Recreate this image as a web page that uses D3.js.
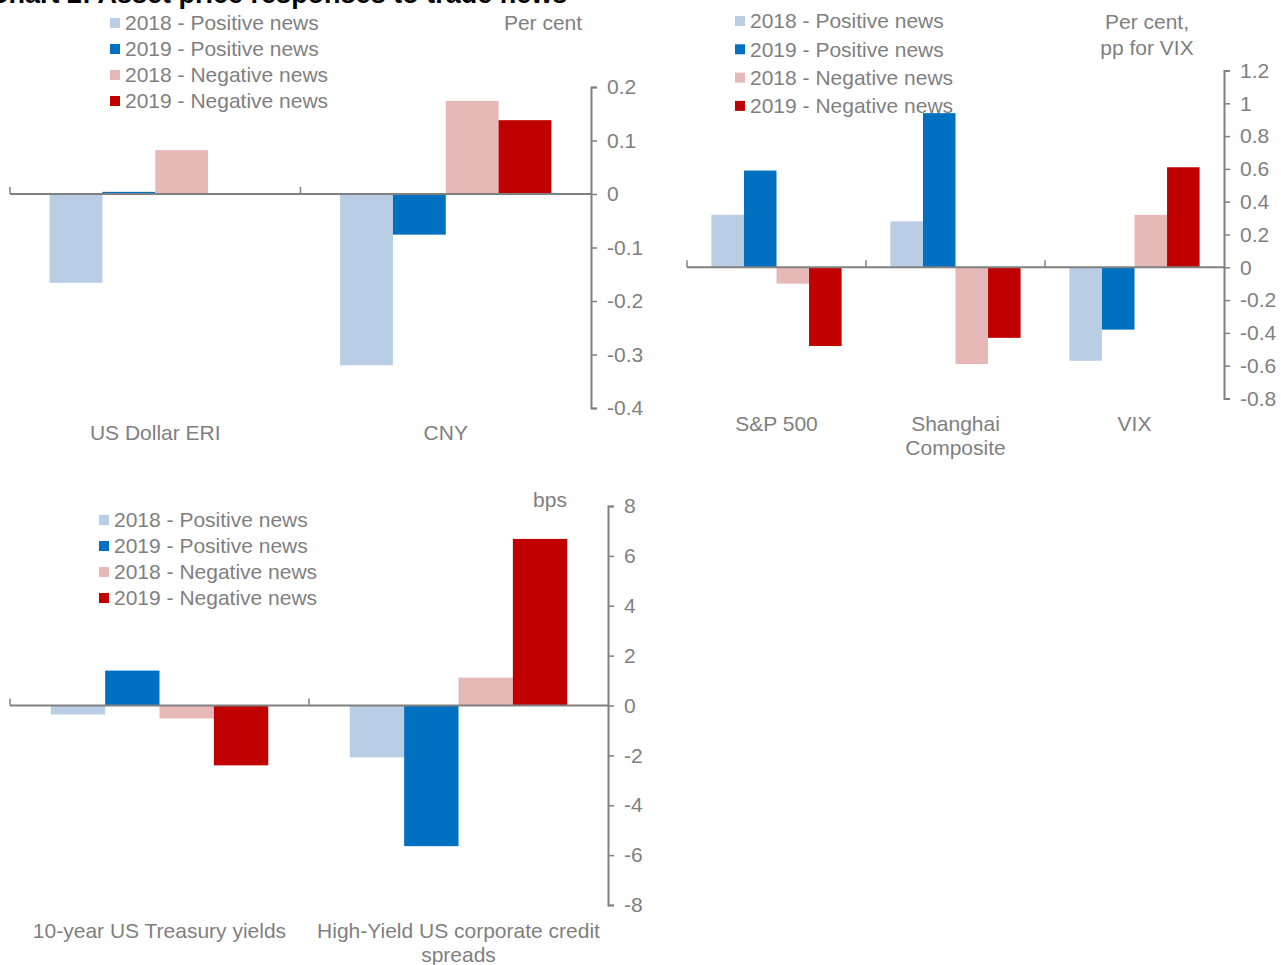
<!DOCTYPE html>
<html><head><meta charset="utf-8">
<script src="https://cdn.jsdelivr.net/npm/d3@7"></script>
<style>
body{margin:0;background:#fff;}
svg text{font-family:"Liberation Sans",Arial,sans-serif;}
</style></head>
<body>
<svg id="c" width="1281" height="965"></svg>
<script>
const seriesNames = ["2018 - Positive news","2019 - Positive news","2018 - Negative news","2019 - Negative news"];
const seriesColors = ["#b9cde5","#0070c0","#e6b9b8","#c00000"];

// Panel 1: currencies (per cent)
const fxCategories = ["US Dollar ERI","CNY"];
const fx2018Pos = [-0.166,-0.32];
const fx2019Pos = [0.004,-0.076];
const fx2018Neg = [0.082,0.174];
const fx2019Neg = [0,0.138];
const fxTicks = [0.2,0.1,0,-0.1,-0.2,-0.3,-0.4];

// Panel 2: equities (per cent, pp for VIX)
const eqCategories = ["S&P 500","Shanghai Composite","VIX"];
const eq2018Pos = [0.32,0.28,-0.57];
const eq2019Pos = [0.59,0.94,-0.38];
const eq2018Neg = [-0.10,-0.59,0.32];
const eq2019Neg = [-0.48,-0.43,0.61];
const eqTicks = [1.2,1,0.8,0.6,0.4,0.2,0,-0.2,-0.4,-0.6,-0.8];

// Panel 3: yields and spreads (bps)
const bondCategories = ["10-year US Treasury yields","High-Yield US corporate credit spreads"];
const bond2018Pos = [-0.36,-2.08];
const bond2019Pos = [1.4,-5.64];
const bond2018Neg = [-0.52,1.12];
const bond2019Neg = [-2.4,6.68];
const bondTicks = [8,6,4,2,0,-2,-4,-6,-8];

const GREY = "#808080", TXT = "#7f7f7f", FS = 21;
const svg = d3.select("#c");

// Title (cut off at top as in reference)
svg.append("text").attr("x",-11).attr("y",3)
  .attr("font-size",27).attr("font-weight","bold").attr("fill","#000")
  .text("Chart 2: Asset price responses to trade news");

function panel(o){
  const g = svg.append("g");
  const y = d3.scaleLinear().domain(o.domain).range([o.yBottom,o.yTop]);
  const x = d3.scaleBand().domain(o.categories).range([o.x0,o.x1]);
  const xs = d3.scaleBand().domain(seriesNames).range([0,x.bandwidth()]).paddingOuter(0.75);
  const vals = [o.s1,o.s2,o.s3,o.s4];
  o.categories.forEach((c,ci)=>{
    seriesNames.forEach((s,si)=>{
      const v = vals[si][ci];
      if(v===0) return;
      g.append("rect")
        .attr("x",x(c)+xs(s)).attr("width",xs.bandwidth())
        .attr("y",y(Math.max(0,v))).attr("height",Math.abs(y(v)-y(0)))
        .attr("fill",seriesColors[si]);
    });
  });
  // zero line with category ticks
  g.append("line").attr("x1",o.x0).attr("x2",o.x1).attr("y1",y(0)).attr("y2",y(0))
    .attr("stroke",GREY).attr("stroke-width",2);
  o.categories.forEach(c=>{
    g.append("line").attr("x1",x(c)).attr("x2",x(c)).attr("y1",y(0)).attr("y2",y(0)-7)
      .attr("stroke",GREY).attr("stroke-width",1.5);
  });
  // y axis
  const ax = g.append("g").attr("transform",`translate(${o.x1},0)`)
    .call(d3.axisRight(y).tickValues(o.ticks).tickSize(6).tickSizeOuter(6).tickPadding(10)
      .tickFormat(d=>String(d)));
  ax.select(".domain").attr("stroke",GREY).attr("stroke-width",2);
  ax.selectAll(".tick line").attr("stroke",GREY).attr("stroke-width",1.5);
  ax.selectAll(".tick text").attr("fill",TXT).attr("font-size",FS)
    .attr("font-family","Liberation Sans, Arial, sans-serif");
  // category labels
  o.categories.forEach((c,ci)=>{
    const lines = o.labelLines[ci];
    lines.forEach((l,li)=>{
      g.append("text").attr("x",x(c)+x.bandwidth()/2).attr("y",o.labelY+li*24)
        .attr("dy","0.35em").attr("text-anchor","middle").attr("fill",TXT).attr("font-size",FS).text(l);
    });
  });
  // unit
  o.unit.forEach((u,ui)=>{
    g.append("text").attr("x",o.unitX).attr("y",o.unitY+ui*26).attr("dy","0.35em")
      .attr("text-anchor","middle").attr("fill",TXT).attr("font-size",FS).text(u);
  });
  // legend
  seriesNames.forEach((s,si)=>{
    const cy = o.legY + si*o.legStep;
    g.append("rect").attr("x",o.legX).attr("y",cy-5).attr("width",10).attr("height",10).attr("fill",seriesColors[si]);
    g.append("text").attr("x",o.legX+15).attr("y",cy).attr("dy","0.35em")
      .attr("fill",TXT).attr("font-size",FS).text(s);
  });
}

panel({categories:fxCategories,s1:fx2018Pos,s2:fx2019Pos,s3:fx2018Neg,s4:fx2019Neg,
  domain:[-0.4,0.2],ticks:fxTicks,yTop:87,yBottom:408,x0:10,x1:591,
  labelLines:[["US Dollar ERI"],["CNY"]],labelY:433,
  unit:["Per cent"],unitX:543,unitY:23,legX:110,legY:23,legStep:26});

panel({categories:eqCategories,s1:eq2018Pos,s2:eq2019Pos,s3:eq2018Neg,s4:eq2019Neg,
  domain:[-0.8,1.2],ticks:eqTicks,yTop:70.5,yBottom:398.5,x0:687,x1:1224,
  labelLines:[["S&P 500"],["Shanghai","Composite"]," VIX".trim().split("|")],labelY:424,
  unit:["Per cent,","pp for VIX"],unitX:1147,unitY:22,legX:735,legY:21,legStep:28.3});

panel({categories:bondCategories,s1:bond2018Pos,s2:bond2019Pos,s3:bond2018Neg,s4:bond2019Neg,
  domain:[-8,8],ticks:bondTicks,yTop:506,yBottom:905,x0:10,x1:608,
  labelLines:[["10-year US Treasury yields"],["High-Yield US corporate credit","spreads"]],labelY:931,
  unit:["bps"],unitX:550,unitY:500,legX:99,legY:520,legStep:26});
</script>
</body></html>
